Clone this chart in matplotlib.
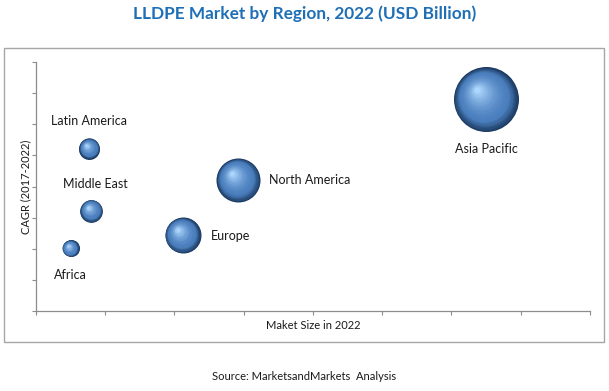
import numpy as np
import matplotlib
matplotlib.use("Agg")
import matplotlib.pyplot as plt
from matplotlib.patches import Rectangle
from matplotlib.transforms import ScaledTranslation
from matplotlib.colors import to_rgb

# Data (axis units 0-8)
regions = ["Asia Pacific", "North America", "Europe", "Latin America", "Middle East", "Africa"]
market_size = [6.50, 2.92, 2.12, 0.77, 0.80, 0.50]
cagr = [6.80, 4.21, 2.44, 5.22, 3.22, 2.01]
bubble_value = [1056, 484, 324, 110, 128, 72]

# label placement (offset in points, alignment)
label_pos = {
    "Asia Pacific": ((0, -36), "center", "center"),
    "North America": ((22, 0), "left", "center"),
    "Europe": ((20, -1), "left", "center"),
    "Latin America": ((0, 20), "center", "center"),
    "Middle East": ((3, 19), "center", "center"),
    "Africa": ((0, -19), "center", "center"),
}

plt.rcParams['font.family'] = ['Lato', 'DejaVu Sans']

fig = plt.figure(figsize=(6.09, 3.91), dpi=100)
ax = fig.add_axes([0.0591, 0.2046, 0.9097, 0.6368])

# outer chart frame
fig.patches.append(Rectangle((4 / 609, 1 - 342 / 391), 600 / 609, 294 / 391,
                             transform=fig.transFigure, fill=False,
                             edgecolor="#a6a6a6", linewidth=1.0))

# bubble radius in points from value (area proportional)
radius_pt = [np.sqrt(v) * 0.72 for v in bubble_value]

dark = np.array(to_rgb("#1b3a60"))
mid = np.array(to_rgb("#4a7ebd"))
light = np.array(to_rgb("#acd6fd"))

steps = 30
for x, y, r in zip(market_size, cagr, radius_pt):
    for k in range(steps):
        t = k / (steps - 1)
        frac = 1 - 0.92 * t
        if t < 0.25:
            col = dark + (mid - dark) * (t / 0.25)
        else:
            col = mid + (light - mid) * ((t - 0.25) / 0.75) ** 1.6
        dx = -0.28 * r * t / 72
        dy = 0.30 * r * t / 72
        tr = ax.transData + ScaledTranslation(dx, dy, fig.dpi_scale_trans)
        ax.scatter([x], [y], s=(2 * r * frac) ** 2, color=col,
                   linewidths=0, transform=tr, zorder=3 + k * 0.01)

for name, x, y in zip(regions, market_size, cagr):
    off, ha, va = label_pos[name]
    ax.annotate(name, (x, y), xytext=off, textcoords="offset points",
                ha=ha, va=va, fontsize=9, color="#1a1a1a")

ax.set_xlim(0, 8)
ax.set_ylim(0, 8)
ax.set_xticks(range(9))
ax.set_yticks(range(9))
ax.set_xticklabels([])
ax.set_yticklabels([])
ax.tick_params(direction="out", length=3, color="#8c8c8c", width=0.8)
for s in ["top", "right"]:
    ax.spines[s].set_visible(False)
for s in ["left", "bottom"]:
    ax.spines[s].set_color("#8c8c8c")
    ax.spines[s].set_linewidth(0.9)

ax.set_xlabel("Maket Size in 2022", fontsize=8, labelpad=0, color="#1a1a1a")
ax.set_ylabel("CAGR (2017-2022)", fontsize=8, labelpad=-3, color="#1a1a1a")

fig.text(0.5, 1 - 14 / 391, "LLDPE Market by Region, 2022 (USD Billion)",
         ha="center", va="center", fontsize=12.4, fontweight="bold", color="#1f6fb6")
fig.text(0.5, 1 - 376 / 391, "Source: MarketsandMarkets  Analysis",
         ha="center", va="center", fontsize=8, color="#1a1a1a")

fig.savefig("out.png", dpi=100)
